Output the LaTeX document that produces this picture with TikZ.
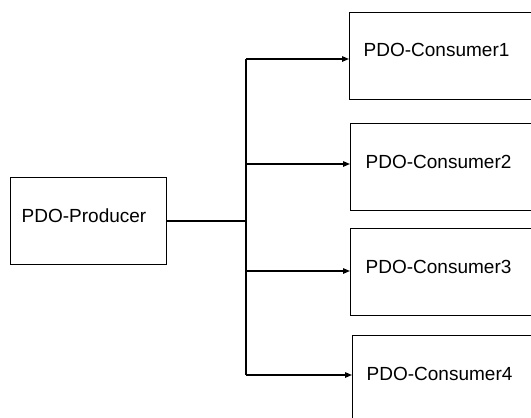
\documentclass[tikz,border=0pt]{standalone}
\usepackage{fontspec}
\setmainfont{Liberation Sans}
\usetikzlibrary{arrows.meta}
\begin{document}
\begin{tikzpicture}[x=1pt,y=-1pt,
  box/.style={draw=black,line width=1pt,anchor=north west,inner sep=0pt,outer sep=0pt},
  lbl/.style={anchor=base west,inner sep=0pt,font=\fontsize{19}{22}\selectfont},
  conn/.style={draw=black,line width=1.4pt},
  arr/.style={conn,-{Triangle[length=7pt,width=5.5pt]}}]
\useasboundingbox (0,0) rectangle (531,418);
\clip (0,0) rectangle (531,418);
\node[box,minimum width=156pt,minimum height=87pt] (prod) at (10,177) {};
\node[box,minimum width=191pt,minimum height=87pt] (c1) at (349,12) {};
\node[box,minimum width=191pt,minimum height=87pt] (c2) at (350,123) {};
\node[box,minimum width=191pt,minimum height=87pt] (c3) at (350,228) {};
\node[box,minimum width=191pt,minimum height=87pt] (c4) at (352,335) {};
\node[lbl] (tp) at (21.5,222.3) {PDO-Producer};
\node[lbl] (t1) at (363.5,56) {PDO-Consumer1};
\node[lbl] (t2) at (365.5,168.3) {PDO-Consumer2};
\node[lbl] (t3) at (365.5,273.3) {PDO-Consumer3};
\node[lbl] (t4) at (366.5,380.7) {PDO-Consumer4};
\coordinate (j) at (246,221);
\coordinate (b1) at (246,59);
\coordinate (b2) at (246,164);
\coordinate (b3) at (246,271);
\coordinate (b4) at (246,375);
\draw[conn] (prod.east |- j) -- (j);
\draw[conn] (b1) -- (b4);
\draw[arr] (b1) -- (c1.west |- b1);
\draw[arr] (b2) -- (c2.west |- b2);
\draw[arr] (b3) -- (c3.west |- b3);
\draw[arr] (b4) -- (c4.west |- b4);
\end{tikzpicture}
\end{document}
